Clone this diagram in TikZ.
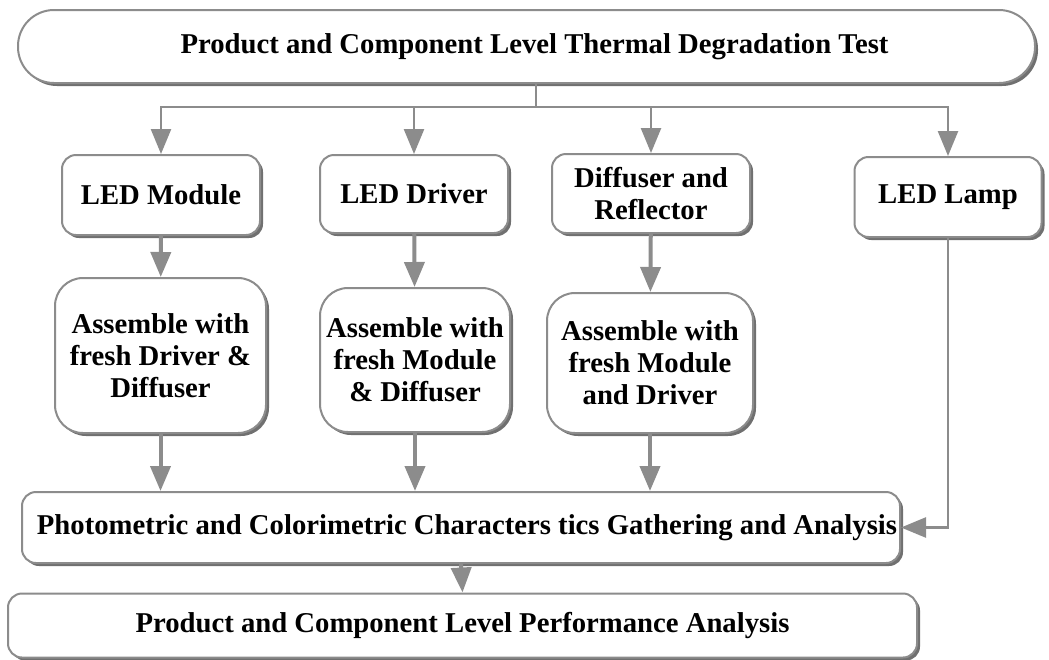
\documentclass[tikz,border=0pt]{standalone}
\usepackage{fontspec}
\setmainfont{Liberation Serif}
\usetikzlibrary{arrows.meta,shadows}
\definecolor{linegray}{HTML}{8C8C8C}

\begin{document}
\begin{tikzpicture}[x=1pt,y=-1pt,
    box/.style={draw=linegray, line width=2pt, fill=white, rounded corners=14pt, align=center, inner sep=0pt,
      font=\bfseries\fontsize{28.7}{32}\selectfont,
      drop shadow={shadow xshift=3pt, shadow yshift=-3pt, fill=black!70, opacity=.8}},
    arr/.style={draw=linegray, line width=4pt, -{Triangle[length=25pt,width=20pt]}},
    thinarr/.style={draw=linegray, line width=2.5pt, -{Triangle[length=25pt,width=20pt]}}]
    \useasboundingbox (0,0) rectangle (1049,659);
    \node[box, rounded corners=36pt, minimum width=1017pt, minimum height=73pt] (top) at (526.5,46.5) {\hspace*{16pt}Product and Component Level Thermal Degradation Test};
    \node[box, minimum width=198pt, minimum height=80pt] (mod) at (161,195) {LED Module};
    \node[box, minimum width=188pt, minimum height=78pt] (drv) at (414,194) {LED Driver};
    \node[box, minimum width=198pt, minimum height=79pt] (dif) at (651,193.5) {Diffuser and\\Reflector};
    \node[box, minimum width=187pt, minimum height=80pt] (lamp) at (948,197) {LED Lamp};
    \node[box, rounded corners=28pt, minimum width=211pt, minimum height=155pt] (asmA) at (160.5,355.5) {Assemble with\\fresh Driver \&\\Diffuser};
    \node[box, rounded corners=28pt, minimum width=190pt, minimum height=144pt] (asmB) at (415,360) {Assemble with\\fresh Module\\\& Diffuser};
    \node[box, rounded corners=28pt, minimum width=206pt, minimum height=140pt] (asmC) at (650,363) {Assemble with\\fresh Module\\and Driver};
    \node[box, minimum width=878pt, minimum height=71pt] (photo) at (461,527.5) {\hspace*{12pt}Photometric and Colorimetric Characters tics Gathering and Analysis};
    \node[box, minimum width=909pt, minimum height=64pt] (perf) at (462.5,625.5) {Product and Component Level Performance Analysis};
    \coordinate (split) at (536,107);
    \draw[draw=linegray, line width=2.5pt] (top.south -| split) -- (split);
    \foreach \n in {mod,drv,dif,lamp}
        \draw[thinarr] (split) -| (\n.north);
    \draw[arr] (mod) -- (asmA);
    \draw[arr] (drv) -- (asmB);
    \draw[arr] (dif) -- (asmC);
    \foreach \n in {asmA,asmB,asmC}
        \draw[arr] (\n.south) -- (\n.south |- photo.north);
    \draw[thinarr] (lamp.south) |- (photo.east);
    \draw[arr] (photo.south) -- (perf.north);
\end{tikzpicture}
\end{document}
